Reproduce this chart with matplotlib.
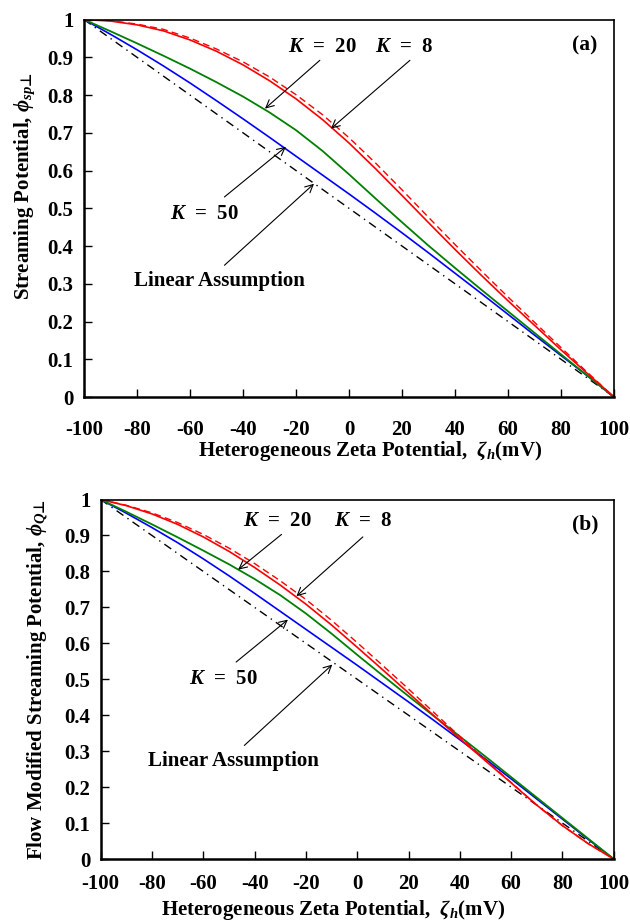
import numpy as np
import matplotlib
matplotlib.use("Agg")
import matplotlib.pyplot as plt

plt.rcParams['font.family'] = ['Liberation Serif', 'DejaVu Serif']
plt.rcParams['font.weight'] = 'bold'
plt.rcParams['mathtext.fontset'] = 'custom'
plt.rcParams['mathtext.rm'] = 'Liberation Serif:bold'
plt.rcParams['mathtext.it'] = 'Liberation Serif:italic:bold'
plt.rcParams['mathtext.bf'] = 'Liberation Serif:bold'
plt.rcParams['mathtext.sf'] = 'DejaVu Sans'
plt.rcParams['axes.unicode_minus'] = False

# ------------- data ------------
zeta = [-100, -90, -80, -70, -60, -50, -40, -30, -20, -10, 0,
        10, 20, 30, 40, 50, 60, 70, 80, 90, 100]

# panel (a): streaming potential
sp_k8 = [1.000, 0.996, 0.986, 0.970, 0.946, 0.916, 0.880, 0.838, 0.790, 0.735, 0.673,
         0.605, 0.534, 0.462, 0.391, 0.322, 0.255, 0.190, 0.125, 0.062, 0.000]
sp_k8_dash = [1.000, 0.997, 0.988, 0.974, 0.951, 0.922, 0.888, 0.848, 0.801, 0.748, 0.687,
              0.620, 0.549, 0.476, 0.404, 0.334, 0.265, 0.198, 0.131, 0.065, 0.000]
sp_k20 = [1.000, 0.969, 0.937, 0.904, 0.870, 0.834, 0.796, 0.754, 0.707, 0.652, 0.590,
          0.526, 0.463, 0.401, 0.342, 0.284, 0.227, 0.170, 0.113, 0.056, 0.000]
sp_k50 = [1.000, 0.961, 0.920, 0.877, 0.832, 0.785, 0.737, 0.688, 0.638, 0.588, 0.538,
          0.487, 0.435, 0.382, 0.328, 0.274, 0.219, 0.164, 0.110, 0.056, 0.000]

# panel (b): flow modified streaming potential
q_k8 = [1.000, 0.983, 0.960, 0.931, 0.896, 0.856, 0.811, 0.762, 0.709, 0.651, 0.589,
        0.526, 0.462, 0.398, 0.335, 0.273, 0.212, 0.150, 0.093, 0.043, 0.000]
q_k8_dash = [1.000, 0.984, 0.963, 0.936, 0.903, 0.865, 0.822, 0.774, 0.722, 0.664, 0.602,
             0.538, 0.473, 0.407, 0.341, 0.276, 0.213, 0.150, 0.093, 0.043, 0.000]
q_k20 = [1.000, 0.966, 0.931, 0.895, 0.858, 0.820, 0.779, 0.734, 0.683, 0.627, 0.568,
         0.510, 0.453, 0.397, 0.341, 0.285, 0.228, 0.171, 0.114, 0.057, 0.000]
q_k50 = [1.000, 0.962, 0.922, 0.880, 0.835, 0.788, 0.739, 0.689, 0.639, 0.589, 0.539,
         0.488, 0.437, 0.385, 0.332, 0.278, 0.223, 0.167, 0.111, 0.055, 0.000]

linear_x = [-100, 100]
linear_y = [1.0, 0.0]

xticks = [-100, -80, -60, -40, -20, 0, 20, 40, 60, 80, 100]
yticks = [0, 0.1, 0.2, 0.3, 0.4, 0.5, 0.6, 0.7, 0.8, 0.9, 1]
ytick_labels = ['0', '0.1', '0.2', '0.3', '0.4', '0.5', '0.6', '0.7', '0.8', '0.9', '1']

# annotations: label, text position, arrow start, arrow tip
notes_a = [('$K$  =  20', (-10, 0.926), (-11, 0.892), (-31.7, 0.764)),
           ('$K$  =  8', (21, 0.926), (23, 0.892), (-6.8, 0.711)),
           ('$K$  =  50', (-54.5, 0.486), (-47, 0.530), (-23.8, 0.663)),
           ('Linear Assumption', (-49, 0.307), (-47, 0.349), (-13.2, 0.565))]
notes_b = [('$K$  =  20', (-31, 0.940), (-29.5, 0.903), (-46.4, 0.805)),
           ('$K$  =  8', (2.3, 0.940), (2.2, 0.896), (-23.7, 0.731)),
           ('$K$  =  50', (-52, 0.501), (-47.2, 0.548), (-27, 0.666)),
           ('Linear Assumption', (-48.3, 0.272), (-44, 0.316), (-9.7, 0.541))]


def draw_panel(ax, k8, k8d, k20, k50, notes, tag, xpad):
    ax.plot(linear_x, linear_y, color='k', lw=1.0, dashes=(6, 3.5, 1, 3.5))
    ax.plot(zeta, k50, color='#0000ff', lw=1.2)
    ax.plot(zeta, k20, color='#008000', lw=1.3)
    ax.plot(zeta, k8d, color='#ff0000', lw=1.0, dashes=(5, 3))
    ax.plot(zeta, k8, color='#ff0000', lw=1.2)

    for label, txt, start, tip in notes:
        ax.annotate('', xy=tip, xytext=start,
                    arrowprops=dict(arrowstyle='->', lw=0.8, color='k',
                                    shrinkA=0, shrinkB=0, mutation_scale=14))
        ax.text(txt[0], txt[1], label, ha='center', va='center',
                fontsize=15, fontweight='bold')
    ax.text(89, 0.932, tag, ha='center', va='center', fontsize=15.5, fontweight='bold')

    ax.set_xlim(-100, 100)
    ax.set_ylim(0, 1)
    ax.set_xticks(xticks)
    ax.set_xticklabels([str(v) for v in xticks])
    ax.set_yticks(yticks)
    ax.set_yticklabels(ytick_labels)
    ax.tick_params(direction='in', length=6, width=1.0, labelsize=15,
                   top=False, right=False)
    ax.tick_params(axis='x', pad=xpad)
    ax.tick_params(axis='y', pad=7.5)
    for lab in ax.get_xticklabels() + ax.get_yticklabels():
        lab.set_fontweight('bold')
    ax.spines['bottom'].set_linewidth(1.8)
    ax.spines['left'].set_linewidth(1.8)
    ax.spines['top'].set_linewidth(1.2)
    ax.spines['right'].set_linewidth(1.2)


fig = plt.figure(figsize=(6.3, 9.22), dpi=100)

ax_a = fig.add_axes([0.1333, 0.5694, 0.8413, 0.4094])
draw_panel(ax_a, sp_k8, sp_k8_dash, sp_k20, sp_k50, notes_a, '(a)', 16.5)
ax_a.text(0.54, -0.156, r'Heterogeneous Zeta Potential,  $\zeta_h$(mV)',
          transform=ax_a.transAxes, ha='center', va='baseline', fontsize=15, fontweight='bold')
ax_a.text(-0.112, 0.5576, r'Streaming Potential, $\phi_{sp\mathsf{⊥}}$', rotation=90,
          transform=ax_a.transAxes, ha='center', va='center', fontsize=15, fontweight='bold')

ax_b = fig.add_axes([0.1598, 0.0683, 0.8144, 0.3899])
draw_panel(ax_b, q_k8, q_k8_dash, q_k20, q_k50, notes_b, '(b)', 10.5)
ax_b.text(0.4537, -0.155, r'Heterogeneous Zeta Potential,  $\zeta_h$(mV)',
          transform=ax_b.transAxes, ha='center', va='baseline', fontsize=15, fontweight='bold')
ax_b.text(-0.123, 0.498, r'Flow Modified Streaming Potential, $\phi_{Q\mathsf{⊥}}$', rotation=90,
          transform=ax_b.transAxes, ha='center', va='center', fontsize=15, fontweight='bold')

fig.savefig('out.png', dpi=100)
